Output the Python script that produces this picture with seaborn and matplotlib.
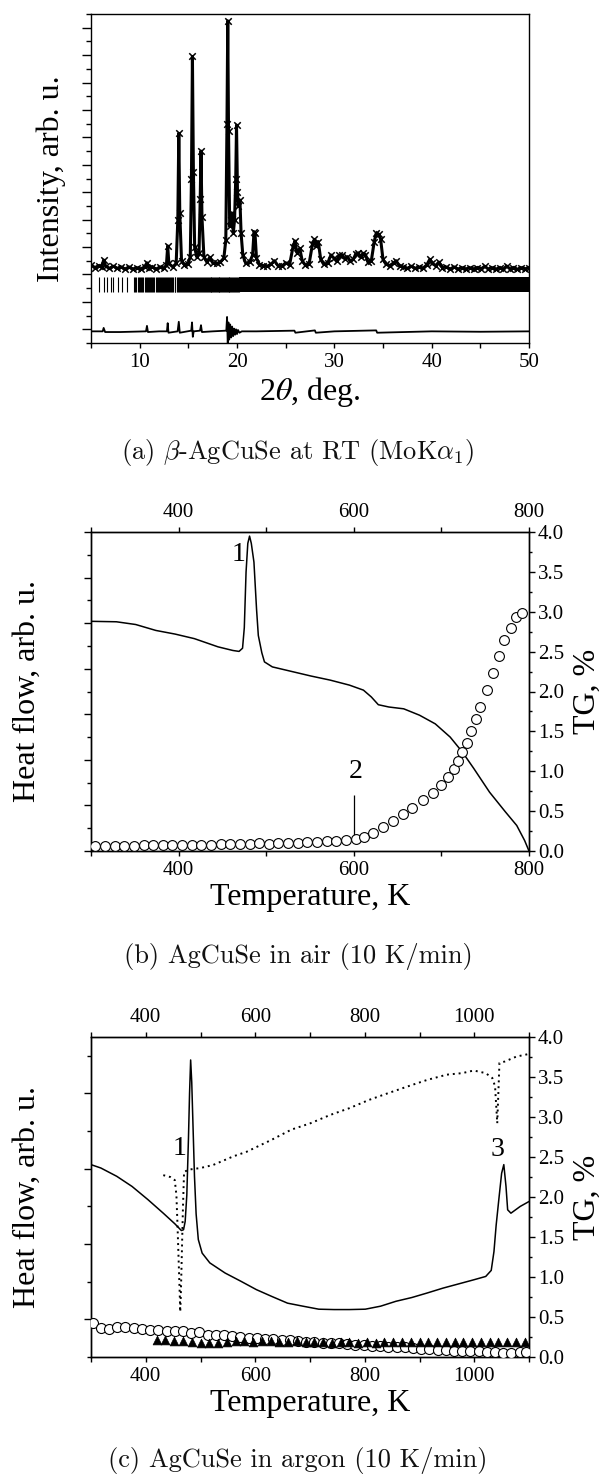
import matplotlib
matplotlib.use('Agg')
import matplotlib.pyplot as plt
import seaborn as sns
import pandas as pd
from matplotlib.ticker import MultipleLocator, NullFormatter, FormatStrFormatter

# ---------------- data: (a) XRD pattern ----------------
obs_2theta = [5.0, 5.4, 5.8, 6.1, 6.3, 6.5, 6.9, 7.3, 7.7, 8.1, 8.5, 8.9, 9.3, 9.7, 10.1, 10.5,
              10.75, 10.95, 11.3, 11.7, 12.1, 12.5, 12.75, 12.88, 13.0, 13.4, 13.75, 13.92, 14.02,
              14.12, 14.3, 14.6, 14.95, 15.2, 15.32, 15.42, 15.52, 15.65, 15.85, 16.1, 16.22, 16.3,
              16.4, 16.6, 16.9, 17.2, 17.5, 17.9, 18.3, 18.65, 18.85, 18.97, 19.05, 19.13, 19.25,
              19.38, 19.5, 19.62, 19.75, 19.87, 19.95, 20.05, 20.15, 20.3, 20.42, 20.6, 20.9, 21.3,
              21.6, 21.75, 21.85, 22.0, 22.3, 22.7, 23.1, 23.5, 23.85, 24.2, 24.6, 25.0, 25.4, 25.75,
              25.95, 26.15, 26.45, 26.7, 27.0, 27.4, 27.75, 27.95, 28.15, 28.35, 28.6, 28.9, 29.3,
              29.65, 29.95, 30.25, 30.5, 30.75, 31.05, 31.35, 31.65, 31.95, 32.2, 32.45, 32.7, 32.95,
              33.2, 33.45, 33.8, 34.1, 34.3, 34.55, 34.75, 35.0, 35.3, 35.7, 36.1, 36.35, 36.7, 37.1,
              37.5, 37.9, 38.3, 38.7, 39.1, 39.5, 39.8, 40.05, 40.4, 40.75, 41.1, 41.5, 41.9, 42.3,
              42.7, 43.1, 43.5, 43.9, 44.3, 44.7, 45.1, 45.45, 45.8, 46.2, 46.6, 47.0, 47.35, 47.7,
              48.05, 48.4, 48.8, 49.2, 49.6, 50.0]
obs_int = [4700, 4500, 4650, 4550, 5050, 4600, 4450, 4600, 4450, 4550, 4400, 4550, 4400, 4500, 4400, 4550,
           4850, 4450, 4550, 4400, 4550, 4450, 4700, 6080, 4800, 4550, 4800, 8000, 14300,
           8500, 5000, 4700, 4750, 5300, 11000, 19900, 11500, 6000, 5300, 5600, 9500, 13000,
           8200, 5300, 4900, 5250, 4850, 4800, 4900, 5200, 6500, 15000, 22500, 14500, 7500,
           8000, 8480, 7000, 8000, 11000, 14900, 10000, 9000, 9430, 7000, 5400, 4800, 4900,
           5400, 7120, 7000, 5200, 4700, 4650, 4600, 4750, 5000, 4650, 4600, 4850, 4700, 6000,
           6440, 5600, 5900, 5000, 4700, 4750, 6200, 6560, 6100, 6400, 5100, 4750, 4800,
           5420, 5200, 4950, 5400, 5450, 5150, 5300, 4950, 5100, 5500, 5550, 5300, 5550,
           5450, 4900, 5000, 6400, 7000, 6950, 6600, 5100, 4750, 4650, 4850, 5000, 4600, 4550,
           4450, 4600, 4450, 4550, 4450, 4700, 5100, 4800, 4650, 4900, 4500, 4550, 4400, 4550,
           4400, 4500, 4400, 4500, 4400, 4500, 4420, 4600, 4400, 4500, 4400, 4480, 4380, 4620,
           4400, 4500, 4380, 4500, 4420, 4480]

diff_2theta = [5.0, 6.2, 6.3, 6.45, 8.0, 10.65, 10.75, 10.85, 12.0, 12.8, 12.88, 12.96, 13.9, 14.02,
               14.12, 15.3, 15.38, 15.46, 15.55, 16.2, 16.3, 16.4, 17.5, 18.9, 18.98, 19.05, 19.12,
               19.2, 19.3, 19.4, 19.5, 19.6, 19.7, 19.8, 19.9, 20.0, 20.1, 20.25, 20.5, 22.0, 25.9,
               26.0, 28.0, 28.1, 30.0, 34.3, 34.4, 40.0, 45.0, 50.0]
diff_int = [-150, -150, 100, -200, -200, -150, 250, -200, -150, -150, 450, -250, -150, 550,
            -250, -100, 500, -550, -150, -100, 300, -200, -150, -100, 900, -1150, 500,
            -750, 350, -600, 200, -500, 50, -400, 0, -350, -50, -250, -150, -150, -100,
            -250, -80, -250, -150, -80, -250, -150, -180, -150]

bragg_2theta = [5.86, 6.37, 6.68, 7.02, 7.29, 7.74, 8.15, 8.66, 9.42, 9.55, 9.66, 9.80, 9.92, 10.02,
                10.15, 10.28, 10.38, 10.50, 10.63, 10.74, 10.86, 10.97, 11.08, 11.20, 11.30, 11.42,
                11.52, 11.63, 11.75, 11.86, 11.97, 12.08, 12.18, 12.30, 12.41, 12.50, 12.62, 12.74,
                12.84, 12.96, 13.05, 13.16, 13.27, 13.36, 13.47, 13.58, 13.68, 13.80, 13.90, 14.00,
                14.10, 14.22, 14.32, 14.42, 14.52, 14.62, 14.72, 14.84, 14.94, 15.04, 15.14, 15.24,
                15.34, 15.44, 15.56, 15.70, 15.80, 15.90, 16.00, 16.10, 16.20, 16.30, 16.40, 16.50,
                16.62, 16.72, 16.80, 16.90, 17.00, 17.10, 17.18, 17.28, 17.36, 17.46, 17.56, 17.64,
                17.74, 17.84, 17.92, 18.02, 18.12, 18.20, 18.30, 18.40, 18.48, 18.58, 18.68, 18.76,
                18.86, 18.96, 19.04, 19.14, 19.22, 19.32, 19.42, 19.50, 19.60, 19.70, 19.78, 19.88,
                19.98, 20.06, 20.16]
bragg_band = [20.2, 50.0]       # region where reflections merge into a solid band
bragg_span = [2720, 3800]       # vertical extent of the reflection markers

# ---------------- data: (b) AgCuSe in air ----------------
hf_air_T = [300, 329, 351, 374, 396, 418, 445, 462, 469, 473, 475, 477, 479, 481, 483, 486, 489, 491,
            495, 498, 507, 529, 551, 573, 595, 611, 620, 628, 640, 657, 675, 693, 710, 724, 737, 755,
            773, 786, 795, 800]
hf_air = [5.04, 5.03, 4.97, 4.84, 4.76, 4.66, 4.48, 4.40, 4.38, 4.45, 4.9, 6.12, 6.75, 6.91, 6.75, 6.34,
          5.3, 4.73, 4.35, 4.15, 4.04, 3.94, 3.84, 3.75, 3.64, 3.53, 3.38, 3.21, 3.16, 3.12, 2.98, 2.79,
          2.50, 2.17, 1.81, 1.29, 0.86, 0.56, 0.23, 0.0]

tg_air_T = [305, 316, 327, 338, 349, 360, 371, 382, 393, 404, 415, 426, 437, 448, 459, 470, 481, 492,
            503, 514, 525, 536, 547, 558, 569, 580, 591, 602, 612, 622, 633, 645, 656, 667, 679, 690,
            700, 708, 714, 719, 724, 729, 734, 739, 744, 752, 759, 766, 772, 780, 785, 792]
tg_air = [0.06, 0.06, 0.06, 0.065, 0.065, 0.07, 0.07, 0.07, 0.075, 0.075, 0.08, 0.08, 0.08, 0.085,
          0.085, 0.09, 0.09, 0.095, 0.085, 0.095, 0.10, 0.105, 0.11, 0.115, 0.12, 0.13, 0.14, 0.15,
          0.18, 0.23, 0.30, 0.38, 0.46, 0.54, 0.64, 0.73, 0.83, 0.93, 1.03, 1.13, 1.24, 1.36, 1.50,
          1.65, 1.81, 2.02, 2.23, 2.45, 2.64, 2.80, 2.93, 2.98]

# ---------------- data: (c) AgCuSe in argon ----------------
hf_ar_T = [300, 318, 347, 375, 404, 432, 453, 465, 469, 472, 475, 478, 480, 482, 484, 486, 489, 492,
           496, 503, 517, 545, 574, 602, 630, 659, 687, 716, 744, 772, 801, 829, 857, 886, 914, 943,
           971, 999, 1021, 1031, 1036, 1040, 1045, 1050, 1054, 1058, 1061, 1067, 1084, 1100]
hf_ar = [5.11, 5.02, 4.80, 4.53, 4.18, 3.82, 3.54, 3.36, 3.38, 3.6, 4.3, 5.8, 7.0, 7.89, 7.3, 6.3, 4.8,
         3.8, 3.12, 2.76, 2.50, 2.23, 2.01, 1.79, 1.61, 1.43, 1.35, 1.27, 1.26, 1.26, 1.27, 1.35, 1.48,
         1.58, 1.70, 1.83, 1.94, 2.05, 2.14, 2.3, 2.8, 3.5, 4.2, 4.88, 5.11, 4.53, 3.91, 3.82, 4.0, 4.13]

dot_ar_T = [432, 445, 453, 456, 458, 460, 462, 463, 464, 466, 468, 470, 480, 500, 523, 560, 584, 630,
            666, 701, 737, 772, 808, 843, 879, 914, 950, 978, 999, 1021, 1033, 1038, 1040, 1042, 1044,
            1046, 1056, 1077, 1100]
dot_ar = [4.83, 4.78, 4.70, 4.3, 3.5, 2.6, 1.7, 1.2, 1.6, 2.8, 4.0, 4.92, 4.98, 5.02, 5.10, 5.33, 5.45,
          5.77, 6.04, 6.21, 6.43, 6.61, 6.83, 7.01, 7.19, 7.36, 7.50, 7.54, 7.61, 7.54, 7.41, 7.19, 6.7,
          6.21, 7.0, 7.81, 7.85, 7.98, 8.05]

tg_ar_T = [304, 318, 333, 348, 363, 378, 393, 408, 423, 438, 453, 468, 483, 498, 513, 528, 543, 558,
           573, 588, 603, 618, 633, 648, 663, 678, 693, 708, 723, 738, 753, 768, 783, 798, 813, 828,
           843, 858, 873, 888, 903, 918, 933, 948, 963, 978, 993, 1008, 1023, 1038, 1053, 1068, 1083,
           1095]
tg_ar = [0.42, 0.36, 0.35, 0.37, 0.37, 0.36, 0.35, 0.34, 0.34, 0.33, 0.32, 0.32, 0.30, 0.31, 0.28,
         0.27, 0.27, 0.26, 0.25, 0.24, 0.24, 0.23, 0.22, 0.21, 0.21, 0.20, 0.19, 0.19, 0.18, 0.17,
         0.17, 0.16, 0.15, 0.15, 0.14, 0.14, 0.13, 0.12, 0.12, 0.11, 0.10, 0.10, 0.09, 0.09, 0.08,
         0.08, 0.07, 0.07, 0.06, 0.06, 0.05, 0.05, 0.06, 0.06]

tri_ar_T = [420, 436, 452, 468, 484, 500, 516, 532, 548, 564, 580, 596, 612, 628, 644, 660, 676, 692,
            708, 724, 740, 756, 772, 788, 804, 820, 836, 852, 868, 884, 900, 916, 932, 948, 964, 980,
            996, 1012, 1028, 1044, 1060, 1076, 1092]
tri_ar = [0.21, 0.21, 0.20, 0.20, 0.19, 0.18, 0.17, 0.17, 0.19, 0.20, 0.20, 0.19, 0.20, 0.20, 0.19,
          0.19, 0.20, 0.19, 0.19, 0.19, 0.18, 0.19, 0.19, 0.18, 0.19, 0.18, 0.19, 0.19, 0.19, 0.19,
          0.19, 0.19, 0.19, 0.19, 0.19, 0.19, 0.19, 0.19, 0.19, 0.19, 0.19, 0.19, 0.19]

# annotations
ann_b = [("1", 468, 6.5, "hf"), ("2", 602, 1.0, "tg")]
mark2_T = 600
mark2_span = [0.17, 0.70]
ann_c = [("1", 461, 5.55), ("3", 1043, 5.5)]

captions = [r"(a) $\beta$-AgCuSe at RT (MoK$\alpha_1$)",
            "(b) AgCuSe in air (10 K/min)",
            "(c) AgCuSe in argon (10 K/min)"]

# ---------------- style ----------------
sns.set_style("ticks")
plt.rcParams['font.family'] = ['Liberation Serif', 'DejaVu Serif']
plt.rcParams['mathtext.fontset'] = 'stix'
plt.rcParams['axes.linewidth'] = 1.0
plt.rcParams['axes.edgecolor'] = 'black'
plt.rcParams['xtick.color'] = 'black'
plt.rcParams['ytick.color'] = 'black'
plt.rcParams['text.color'] = 'black'
plt.rcParams['axes.labelcolor'] = 'black'

W, H = 607, 1476
fig = plt.figure(figsize=(W / 100, H / 100), dpi=100)


def add_ax(top_px, bottom_px):
    return fig.add_axes([91 / W, 1 - bottom_px / H, 438 / W, (bottom_px - top_px) / H])


TICK_FS = 15
LAB_FS = 23

# ---------------- (a) ----------------
axA = add_ax(14, 343)
dfo = pd.DataFrame({"x": obs_2theta, "y": obs_int})
sns.lineplot(data=dfo, x="x", y="y", ax=axA, sort=False, estimator=None, color="black",
             linewidth=2.2, legend=False)
sns.scatterplot(data=dfo, x="x", y="y", ax=axA, marker="x", s=22, color="black",
                linewidth=1.1, legend=False)
dfd = pd.DataFrame({"x": diff_2theta, "y": diff_int})
sns.lineplot(data=dfd, x="x", y="y", ax=axA, sort=False, estimator=None, color="black",
             linewidth=1.3, legend=False)
axA.vlines(bragg_2theta, bragg_span[0], bragg_span[1], colors="black", linewidth=0.8)
axA.fill_between(bragg_band, bragg_span[0], bragg_span[1], color="black", linewidth=0)

axA.set_xlim(5, 50)
axA.set_ylim(-1000, 23000)
axA.xaxis.set_major_locator(MultipleLocator(10))
axA.xaxis.set_minor_locator(MultipleLocator(5))
axA.yaxis.set_major_locator(MultipleLocator(2000))
axA.yaxis.set_minor_locator(MultipleLocator(1000))
axA.yaxis.set_major_formatter(NullFormatter())
axA.tick_params(axis="x", which="both", direction="out", length=3.6, width=1.0,
                labelsize=TICK_FS, pad=3.5, top=False)
axA.tick_params(axis="y", which="major", direction="out", length=6.5, width=1.0, right=False)
axA.tick_params(axis="y", which="minor", direction="out", length=3.6, width=1.0, right=False)
axA.set_xlabel(r"2$\theta$, deg.", fontsize=LAB_FS)
axA.set_ylabel("Intensity, arb. u.", fontsize=LAB_FS)
axA.xaxis.set_label_coords(0.5, -32 / 329)
axA.yaxis.set_label_coords(-0.057, 0.5)


def style_dsc(ax, xlim, ylim, ymajor, yminor, yoffset=0.0):
    ax.set_xlim(*xlim)
    ax.set_ylim(*ylim)
    ax.xaxis.set_major_locator(MultipleLocator(200))
    ax.xaxis.set_minor_locator(MultipleLocator(100))
    ax.yaxis.set_major_locator(MultipleLocator(ymajor, offset=yoffset))
    ax.yaxis.set_minor_locator(MultipleLocator(yminor))
    ax.yaxis.set_major_formatter(NullFormatter())
    ax.tick_params(axis="x", which="both", direction="out", length=3.6, width=1.0,
                   labelsize=TICK_FS, pad=3.5, top=True, labeltop=True)
    ax.tick_params(axis="y", which="major", direction="out", length=5.0, width=1.0)
    ax.tick_params(axis="y", which="minor", direction="out", length=3.0, width=1.0)
    tw = ax.twinx()
    tw.set_ylim(0, 4)
    tw.yaxis.set_major_locator(MultipleLocator(0.5))
    tw.yaxis.set_minor_locator(MultipleLocator(0.25))
    tw.yaxis.set_major_formatter(FormatStrFormatter("%.1f"))
    tw.tick_params(axis="y", which="major", direction="out", length=4.5, width=1.0,
                   labelsize=TICK_FS, pad=2)
    tw.tick_params(axis="y", which="minor", direction="out", length=2.5, width=1.0)
    ax.set_xlabel("Temperature, K", fontsize=LAB_FS)
    ax.set_ylabel("Heat flow, arb. u.", fontsize=LAB_FS)
    tw.set_ylabel("TG, %", fontsize=LAB_FS)
    h = ax.get_position().height * H
    ax.xaxis.set_label_position("bottom")
    ax.xaxis.set_label_coords(0.5, -32 / h)
    ax.yaxis.set_label_coords(-0.112, 0.5)
    tw.yaxis.set_label_coords(1.100, 0.5)
    return tw


# ---------------- (b) ----------------
axB = add_ax(532, 851)
twB = style_dsc(axB, (300, 800), (0, 7), 1, 0.5)
sns.lineplot(x=hf_air_T, y=hf_air, ax=axB, sort=False, estimator=None, color="black",
             linewidth=1.1, legend=False)
sns.scatterplot(x=tg_air_T, y=tg_air, ax=twB, marker="o", s=50, facecolor="white",
                edgecolor="black", linewidth=0.8, legend=False, zorder=3)
twB.vlines(mark2_T, mark2_span[0], mark2_span[1], colors="black", linewidth=0.9, zorder=2)
for txt, xv, yv, which in ann_b:
    target = axB if which == "hf" else twB
    target.text(xv, yv, txt, fontsize=20, ha="center", va="center")

# ---------------- (c) ----------------
axC = add_ax(1037, 1357)
twC = style_dsc(axC, (300, 1100), (0, 8.5), 2, 1, yoffset=1)
sns.lineplot(x=hf_ar_T, y=hf_ar, ax=axC, sort=False, estimator=None, color="black",
             linewidth=1.1, legend=False)
sns.lineplot(x=dot_ar_T, y=dot_ar, ax=axC, sort=False, estimator=None, color="black",
             linewidth=1.4, linestyle=(0, (1.0, 2.0)), legend=False)
sns.scatterplot(x=tg_ar_T, y=tg_ar, ax=twC, marker="o", s=52, facecolor="white",
                edgecolor="black", linewidth=0.8, legend=False, zorder=3)
sns.scatterplot(x=tri_ar_T, y=tri_ar, ax=twC, marker="^", s=40, color="black",
                edgecolor="black", linewidth=0.5, legend=False, zorder=4)
for txt, xv, yv in ann_c:
    axC.text(xv, yv, txt, fontsize=20, ha="center", va="center")

# ---------------- captions ----------------
for cap, ypx in zip(captions, [452, 956, 1461]):
    fig.text(298 / W, 1 - ypx / H, cap, family="cmr10", math_fontfamily="cm",
             fontsize=19, ha="center", va="center", color="#111111")

fig.savefig("out.png", dpi=100)
